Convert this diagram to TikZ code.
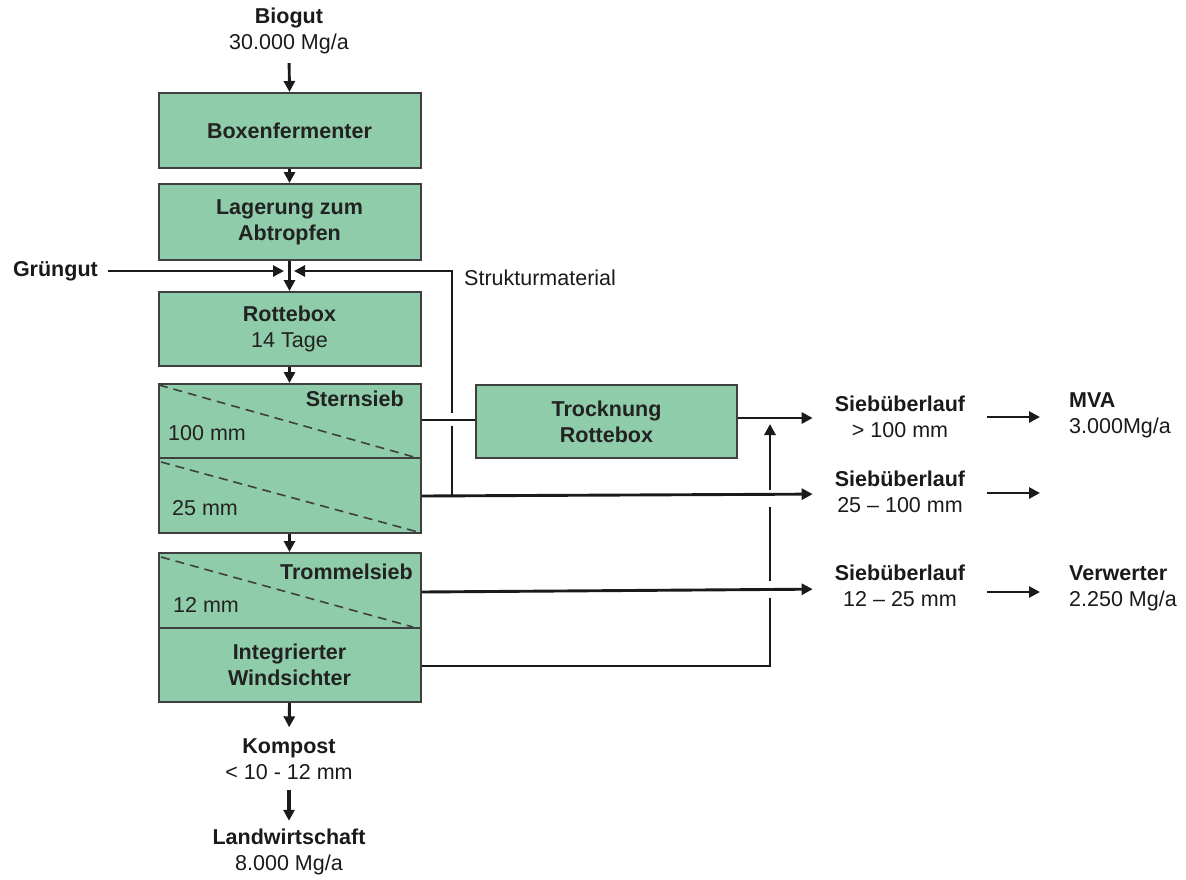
\documentclass[tikz,border=0pt]{standalone}
\usepackage{fontspec}
\setmainfont{Liberation Sans}
\usetikzlibrary{arrows.meta}
\definecolor{boxfill}{HTML}{8FCCAA}
\definecolor{boxline}{HTML}{3F3F3F}
\definecolor{txt}{HTML}{222222}
\definecolor{ink}{HTML}{1A1A1A}
\begin{document}
\begin{tikzpicture}[x=1pt,y=-1pt,
  proc/.style={draw=boxline, line width=2pt, fill=boxfill, minimum width=262pt, inner sep=0pt, align=center, font=\fontsize{21.5}{26}\selectfont\bfseries, text=txt},
  inbox/.style={inner sep=0pt, font=\fontsize{21.5}{26}\selectfont, text=txt},
  lbl/.style={font=\fontsize{21.5}{26}\selectfont, align=center, inner sep=0pt, text=ink},
  flow/.style={draw=ink, line width=2.9pt, -{Triangle[length=11pt,width=11pt]}},
  ln/.style={draw=ink, line width=2.9pt},
  cut/.style={draw=boxline, line width=1.6pt, dash pattern=on 9pt off 6pt}
]
\useasboundingbox (0,0) rectangle (1186,879);

% main column
\node[proc, minimum height=75pt] (boxen) at (289.5,130.5) {Boxenfermenter};
\node[proc, minimum height=76pt] (lager) at (289.5,222) {Lagerung zum\\Abtropfen};
\node[proc, minimum height=74pt] (rotte) at (289.5,329) {Rottebox\\{\mdseries 14 Tage}};
\node[proc, minimum height=74pt] (stern) at (289.5,421) {};
\node[proc, minimum height=75pt] (sieb25) at (289.5,495.5) {};
\node[proc, minimum height=75pt] (tromm) at (289.5,590.5) {};
\node[proc, minimum height=74pt] (wind) at (289.5,665) {Integrierter\\Windsichter};
\node[proc, minimum width=261pt, minimum height=73pt] (trock) at (606.5,421.5) {Trocknung\\Rottebox};

% dashed screen lines
\draw[cut] (159,385) -- (414,457);
\draw[cut] (161,462) -- (418,532);
\draw[cut] (161,557) -- (413,627);

% texts inside split boxes
\node[inbox, font=\fontsize{21.5}{26}\selectfont\bfseries, anchor=east] (tstern) at (404,399) {Sternsieb};
\node[inbox, anchor=west] (t100) at (168,433) {100 mm};
\node[inbox, anchor=west] (t25) at (172,508) {25 mm};
\node[inbox, font=\fontsize{21.5}{26}\selectfont\bfseries, anchor=east] (ttromm) at (413,572) {Trommelsieb};
\node[inbox, anchor=west] (t12) at (173,605) {12 mm};

% outer labels
\node[lbl] (biogut) at (289,31) {\textbf{Biogut}\\30.000 Mg/a};
\node[lbl, anchor=east] (gruen) at (98,271) {\textbf{Grüngut}};
\node[lbl, anchor=west] (struk) at (464,278) {Strukturmaterial};
\node[lbl] (kompost) at (289,759) {\textbf{Kompost}\\{<} 10 - 12 mm};
\node[lbl] (landw) at (289,852) {\textbf{Landwirtschaft}\\8.000 Mg/a};
\node[lbl] (s1) at (900,417) {\textbf{Siebüberlauf}\\{>} 100 mm};
\node[lbl] (s2) at (900,492) {\textbf{Siebüberlauf}\\25 \textendash{} 100 mm};
\node[lbl] (s3) at (900,586) {\textbf{Siebüberlauf}\\12 \textendash{} 25 mm};
\node[lbl, align=left, anchor=west] (mva) at (1069,415) {\textbf{MVA}\\3.000Mg/a};
\node[lbl, align=left, anchor=west] (verw) at (1069,588) {\textbf{Verwerter}\\2.250 Mg/a};

% junction points
\coordinate (jl) at (284,271);
\coordinate (jr) at (294,271);
\coordinate (vs) at (452,496);
\coordinate (vw) at (770,666);
\coordinate (e2) at (1040,493);

% main column flow
\draw[flow, shorten <=9pt] (biogut.south) -- (boxen.north);
\draw[flow] (boxen.south) -- (lager.north);
\draw[flow] (lager.south) -- (rotte.north);
\draw[flow] (rotte.south) -- (stern.north);
\draw[flow] (sieb25.south) -- (tromm.north);
\draw[flow, shorten >=11pt] (wind.south) -- (kompost.north);
\draw[flow, line width=3.4pt, shorten <=10pt, shorten >=8pt] (kompost.south) -- (landw.north);

% Grüngut and Strukturmaterial
\draw[flow, shorten <=10pt] (gruen.east) -- (jl);
\draw[ln] (vs) -- (452,426);
\draw[flow] (452,413) -- (452,271) -- (jr);

% screen outputs
\draw[ln] (stern.east |- 0,420) -- (trock.west |- 0,420);
\draw[flow, shorten >=22pt] (trock.east |- 0,418) -- (s1.west |- 0,418);
\draw[flow, shorten >=22pt] (sieb25.east |- vs) -- (s2.west |- 0,494);
\draw[flow, shorten >=22pt] (tromm.east |- 0,592) -- (s3.west |- 0,589);
\draw[ln] (wind.east |- vw) -- (vw) -- (770,598);
\draw[ln] (770,581) -- (770,507);
\draw[flow] (770,490) -- (770,424);

% right arrows
\draw[flow, shorten <=22pt, shorten >=29pt] (s1.east |- 0,417) -- (mva.west |- 0,417);
\draw[flow, shorten <=22pt] (s2.east |- e2) -- (e2);
\draw[flow, shorten <=22pt, shorten >=29pt] (s3.east |- 0,592) -- (verw.west |- 0,592);
\end{tikzpicture}
\end{document}
